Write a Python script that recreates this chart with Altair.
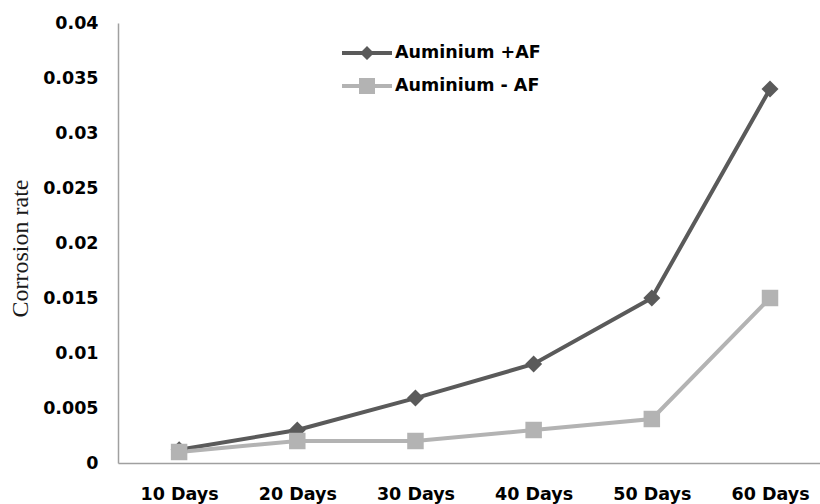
import altair as alt
import pandas as pd

days = ["10 Days", "20 Days", "30 Days", "40 Days", "50 Days", "60 Days"]
series_names = ["Auminium +AF", "Auminium - AF"]
af_plus = [0.0012, 0.003, 0.0059, 0.009, 0.015, 0.034]
af_minus = [0.001, 0.002, 0.002, 0.003, 0.004, 0.015]
colors = ["#5a5a5a", "#b3b3b3"]
y_ticks = [0, 0.005, 0.01, 0.015, 0.02, 0.025, 0.03, 0.035, 0.04]

rows = []
for d, v in zip(days, af_plus):
    rows.append({"day": d, "series": series_names[0], "value": v})
for d, v in zip(days, af_minus):
    rows.append({"day": d, "series": series_names[1], "value": v})
df = pd.DataFrame(rows)

FONT = "DejaVu Sans"

x_enc = alt.X(
    "day:N",
    sort=days,
    scale=alt.Scale(type="point", padding=0.47, align=0.55),
    axis=alt.Axis(
        title=None, labelAngle=0, labelFont=FONT, labelFontSize=17.5,
        labelFontWeight="bold", labelColor="#000000", ticks=False, tickSize=0,
        labelPadding=22, domainColor="#a0a0a0", domainWidth=1.5, grid=False,
    ),
)
y_enc = alt.Y(
    "value:Q",
    scale=alt.Scale(domain=[0, 0.04], nice=False, zero=True),
    axis=alt.Axis(
        title="Corrosion rate", titleFont="Liberation Serif", titleFontSize=24,
        titleFontWeight="normal", titleColor="#1a1a1a", titlePadding=10,
        titleY=225,
        values=y_ticks, format="~g", labelFont=FONT, labelFontSize=17.5,
        labelFontWeight="bold", labelColor="#000000", ticks=False, tickSize=0,
        labelPadding=20, domainColor="#a0a0a0", domainWidth=1.5, grid=False,
    ),
)
color_enc = alt.Color(
    "series:N", scale=alt.Scale(domain=series_names, range=colors), legend=None
)

base = alt.Chart(df)

lines = base.mark_line(strokeWidth=4).encode(
    x=x_enc, y=y_enc, color=color_enc, order=alt.value(0)
)

pts_plus = base.transform_filter(
    alt.datum.series == series_names[0]
).mark_point(shape="diamond", filled=True, size=289, opacity=1).encode(
    x=x_enc, y=y_enc, color=color_enc
)
pts_minus = base.transform_filter(
    alt.datum.series == series_names[1]
).mark_point(shape="square", filled=True, size=272, opacity=1).encode(
    x=x_enc, y=y_enc, color=color_enc
)

legend_paths = [
    "M-2.5,-0.2H2.5V0.2H-2.5Z M0,-0.7L0.7,0L0,0.7L-0.7,0Z",
    "M-2.5,-0.2H2.5V0.2H-2.5Z M-0.8,-0.8H0.8V0.8H-0.8Z",
]
leg = alt.Legend(
    title=None, orient="none", legendX=239, legendY=20, padding=0,
    symbolSize=400, symbolStrokeWidth=0, labelOffset=18, rowPadding=14,
    labelFont=FONT, labelFontSize=17.5, labelFontWeight="bold",
    labelColor="#000000", labelLimit=400,
)
legend_layer = base.transform_filter("false").mark_point(
    filled=True, opacity=1
).encode(
    x=x_enc, y=y_enc,
    fill=alt.Fill("series:N", scale=alt.Scale(domain=series_names, range=colors), legend=leg),
    shape=alt.Shape("series:N", scale=alt.Scale(domain=series_names, range=legend_paths), legend=leg),
)

chart = alt.layer(legend_layer, lines, pts_plus, pts_minus).properties(
    width=702, height=440,
    autosize=alt.AutoSizeParams(type="none"),
    padding={"left": 118, "top": 23, "right": 0, "bottom": 41},
    background="#ffffff",
).configure_view(stroke=None)

chart.save("out.html", embed_options={"renderer": "svg", "actions": False})
